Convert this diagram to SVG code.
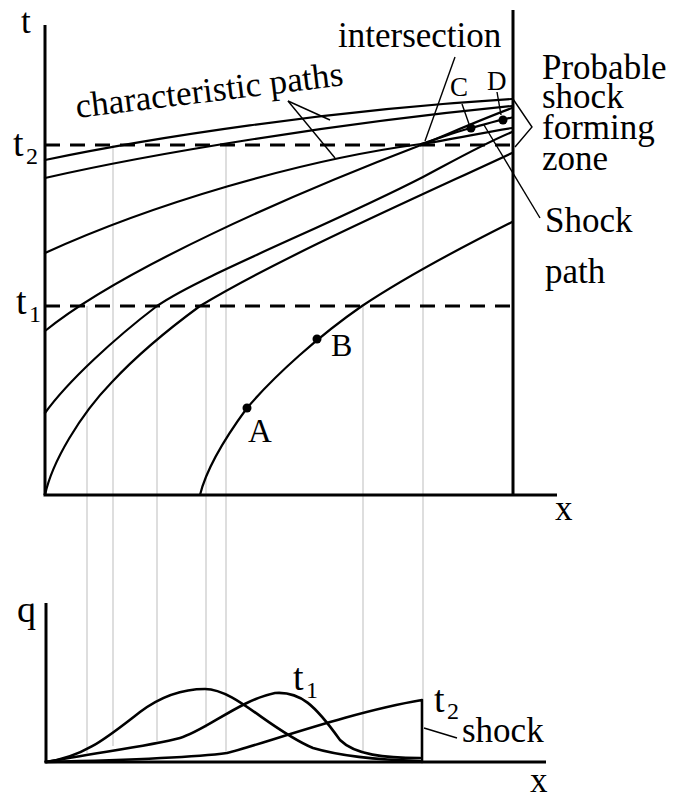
<svg xmlns="http://www.w3.org/2000/svg" width="675" height="801" viewBox="0 0 675 801">
<style>
.axis{fill:none;stroke:#000;stroke-width:3}
.curve{fill:none;stroke:#000;stroke-width:2.2;stroke-linejoin:round;stroke-linecap:round}
.qc{fill:none;stroke:#000;stroke-width:2.6;stroke-linejoin:round;stroke-linecap:round}
.dash{fill:none;stroke:#000;stroke-width:3;stroke-dasharray:15 10}
.grid{fill:none;stroke:#bdbdbd;stroke-width:1}
.lead{fill:none;stroke:#000;stroke-width:1.4}
.txt{font-family:"Liberation Serif","Times New Roman",serif;font-size:35px;fill:#000}
.big{font-size:38px}
.sub{font-size:24px}
.pt{font-size:27px}
</style>
<rect width="675" height="801" fill="#fff"/>
<g id="projection-lines">
<line class="grid" x1="87" y1="306" x2="87" y2="753"/>
<line class="grid" x1="113" y1="145" x2="113" y2="746"/>
<line class="grid" x1="157" y1="306" x2="157" y2="741"/>
<line class="grid" x1="206" y1="306" x2="206" y2="728"/>
<line class="grid" x1="226" y1="145" x2="226" y2="753"/>
<line class="grid" x1="363" y1="306" x2="363" y2="751"/>
<line class="grid" x1="423" y1="144" x2="423" y2="700"/>
</g>
<g id="top-plot">
<line class="axis" x1="45" y1="25" x2="45" y2="495"/>
<line class="axis" x1="43.5" y1="495" x2="557" y2="495"/>
<line class="axis" x1="513" y1="10" x2="513" y2="495"/>
<line class="dash" x1="45" y1="145" x2="513" y2="145"/>
<line class="dash" x1="45" y1="306" x2="513" y2="306"/>
<text class="txt" x="21" y="33">t</text>
<text class="txt big" x="13" y="156">t</text><text class="txt sub" x="26" y="164">2</text>
<text class="txt big" x="16" y="314">t</text><text class="txt sub" x="29" y="322">1</text>
<text class="txt" x="555" y="520">x</text>
</g>
<g id="connectors">
<path id="c1" class="curve" d="M45,160 C150,138 330,110 512,99"/>
<path id="c2" class="curve" d="M45,178 C150,154 330,124 512,106"/>
<path id="c3" class="curve" d="M45,253 C150,205 300,160 421,144 C450,140 480,133 512,128"/>
<path id="c4" class="curve" d="M45,331 C120,270 290,195 421,145 C455,131 485,118 512,108"/>
<path id="c5" class="curve" d="M45,413 C68,381 115,338 157,306 C200,276 330,225 423,177 C455,160 485,143 512,132"/>
<path id="c6" class="curve" d="M45,495 C52,462 80,415 112,382 C140,352 170,328 200,306 C280,258 400,205 512,153"/>
<path id="c7" class="curve" d="M200,495 C206,470 225,438 247,408 C275,375 320,335 362,306 C410,274 460,248 512,222"/>
<path id="shock-path" class="curve" d="M421,144 C440,138 455,132 471,128 C483,125 495,121 512,117.5"/>
<line class="lead" x1="288" y1="101" x2="330" y2="120"/>
<line class="lead" x1="288" y1="101" x2="335" y2="158"/>
<line class="lead" x1="455" y1="57" x2="425" y2="141"/>
<line class="lead" x1="462" y1="104" x2="469" y2="124"/>
<line class="lead" x1="497" y1="92" x2="501" y2="115"/>
<line class="lead" x1="484" y1="125" x2="540" y2="218"/>
<polyline class="lead" points="513,99 532,127 515,147"/>
</g>
<g id="points">
<circle cx="247" cy="408" r="4.5"/>
<circle cx="317" cy="339" r="4.5"/>
<circle cx="471" cy="128" r="4.5"/>
<circle cx="503" cy="120" r="4.5"/>
<text class="txt" x="248" y="442" style="font-size:33px">A</text>
<text class="txt" x="331" y="356" style="font-size:32px">B</text>
<text class="txt pt" x="450" y="96">C</text>
<text class="txt pt" x="487" y="90">D</text>
</g>
<g id="labels">
<text class="txt" x="77" y="118" transform="rotate(-7 77 118)">characteristic paths</text>
<text class="txt" x="338" y="47">intersection</text>
<text class="txt" x="542" y="79">Probable</text>
<text class="txt" x="542" y="108">shock</text>
<text class="txt" x="542" y="139">forming</text>
<text class="txt" x="542" y="170">zone</text>
<text class="txt" x="545" y="232">Shock</text>
<text class="txt" x="545" y="283">path</text>
</g>
<g id="bottom-plot">
<line class="axis" x1="46" y1="603" x2="46" y2="762"/>
<line class="axis" x1="44.5" y1="762" x2="546" y2="762"/>
<text class="txt big" x="17" y="622">q</text>
<text class="txt" x="530" y="792">x</text>
<path id="q0" class="qc" d="M46,762 C85,757 110,735 140,712 C160,697 180,689 205,689 C235,689 270,730 313,748 C340,756 380,760 420,761"/>
<path id="q1" class="qc" d="M46,762 C100,752 150,746 180,738 C205,731 240,700 275,693 C300,691 315,705 340,740 C355,755 385,758 420,758"/>
<path id="q2" class="qc" d="M46,762 C130,760 190,758 227,753 C260,745 350,712 422,700 L422,762"/>
<line class="lead" x1="424" y1="728" x2="457" y2="738"/>
<text class="txt big" x="293" y="690">t</text><text class="txt sub" x="306" y="698">1</text>
<text class="txt big" x="434" y="712">t</text><text class="txt sub" x="447" y="719">2</text>
<text class="txt" x="462" y="742">shock</text>
</g>
</svg>
